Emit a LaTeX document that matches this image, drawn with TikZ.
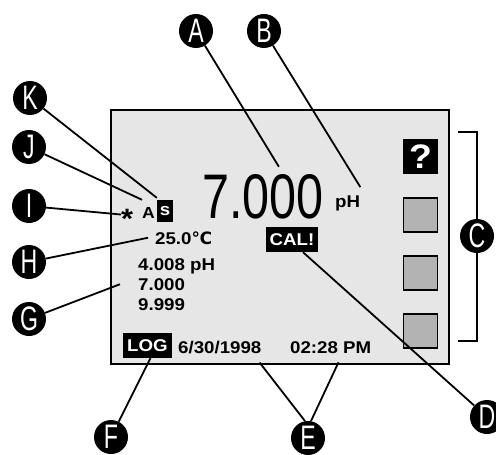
\documentclass[tikz,border=0pt]{standalone}
\usepackage{fontspec}
\usetikzlibrary{positioning}
\newfontfamily\dispfont[FakeStretch=0.77]{Liberation Sans}
\newfontfamily\callfont[FakeStretch=0.68]{Liberation Sans}
\newfontfamily\lcdfont[FakeStretch=1.1]{Liberation Sans}
\newfontfamily\symfont{DejaVu Sans}
\definecolor{lcdgray}{HTML}{E6E6E6}
\definecolor{keygray}{HTML}{B3B3B3}
\newcommand{\lcdsize}{\fontsize{17}{20}\selectfont}

\begin{document}
\begin{tikzpicture}[x=1pt, y=-1pt,
    callout/.style={circle, fill=black, text=white, minimum size=34pt, inner sep=0pt,
      font=\callfont\fontsize{34}{34}\selectfont},
    lcdtext/.style={inner sep=0pt, font=\lcdfont\bfseries\lcdsize},
    flag/.style={fill=black, text=white, inner sep=0pt, font=\lcdfont\bfseries\lcdsize},
    softkey/.style={draw, line width=1.8pt, fill=keygray, minimum size=34pt, inner sep=0pt},
    leader/.style={line width=1.8pt}]
    \useasboundingbox (0,0) rectangle (496,455);

    \node[draw, line width=2.4pt, fill=lcdgray, minimum width=338pt, minimum height=254pt, inner sep=0pt] (lcd) at (280,237) {};

    \node[inner sep=0pt, anchor=base west, font=\dispfont\fontsize{63}{63}\selectfont] (reading) at (202,218) {7.000};
    \node[lcdtext, anchor=base west] (unit) at (335,207) {pH};
    \node[flag, minimum width=52pt, minimum height=25pt] (calflag) at (292,239.5) {CAL!};
    \node[lcdtext, anchor=base west, font=\lcdfont\bfseries\fontsize{28}{28}\selectfont] (star) at (121,228) {*};
    \node[lcdtext, anchor=base west, font=\lcdfont\bfseries\fontsize{16}{16}\selectfont] (modeA) at (142,218) {A};
    \node[flag, minimum width=16pt, minimum height=22pt] (stab) at (165,211) {s};
    \node[lcdtext, anchor=base west] (temp) at (155,244) {25.0{\symfont ℃}};
    \node[lcdtext, anchor=north west, align=left] (buffers) at (138,258) {4.008 pH\\7.000\\9.999};
    \node[flag, minimum width=49pt, minimum height=25pt] (logflag) at (147.5,345.5) {LOG};
    \node[lcdtext, anchor=base west] (date) at (178,353) {6/30/1998};
    \node[lcdtext, anchor=base west] (time) at (290,353) {02:28 PM};

    \node[fill=black, text=white, minimum size=35pt, inner sep=0pt, font=\lcdfont\bfseries\fontsize{34}{34}\selectfont] (help) at (420.5,156.5) {?};
    \node[softkey] (key1) at (420.5,215) {};
    \node[softkey] (key2) at (420.5,273) {};
    \node[softkey] (key3) at (420.5,331) {};

    \node[callout] (cA) at (196,31) {A};
    \node[callout] (cB) at (264,31) {B};
    \node[callout] (cC) at (477,236) {C};
    \node[callout] (cD) at (487,417) {D};
    \node[callout] (cE) at (308,438) {E};
    \node[callout] (cF) at (111,437) {F};
    \node[callout] (cG) at (29,319) {G};
    \node[callout] (cH) at (29,262) {H};
    \node[callout] (cI) at (29,206) {I};
    \node[callout] (cJ) at (29,147) {J};
    \node[callout] (cK) at (30,98) {K};

    \coordinate (ktop) at (458,132);
    \coordinate (kbot) at (458,341);

    \draw[leader] (cA) -- ([xshift=16pt,yshift=7pt]reading.north);
    \draw[leader] (cB) -- ([yshift=8pt]unit.north east);
    \draw[leader] (ktop) -| (cC.north);
    \draw[leader] (kbot) -| (cC.south);
    \draw[leader] ([xshift=11pt]calflag.south) -- (cD);
    \draw[leader] ([xshift=-2pt,yshift=-9pt]date.south east) -- (cE.100);
    \draw[leader] ([xshift=-33pt,yshift=-9pt]time.south east) -- (cE.80);
    \draw[leader] ([xshift=3pt]logflag.south) -- (cF);
    \draw[leader] (cG) -- ([xshift=-18pt]buffers.west);
    \draw[leader] (cH) -- ([xshift=-7pt]temp.west);
    \draw[leader] (cI) -- ([xshift=0pt,yshift=-6pt]star.north west);
    \draw[leader] (cJ) -- ([yshift=7pt]modeA.north west);
    \draw[leader] (cK) -- ([yshift=2pt]stab.north west);
\end{tikzpicture}
\end{document}
